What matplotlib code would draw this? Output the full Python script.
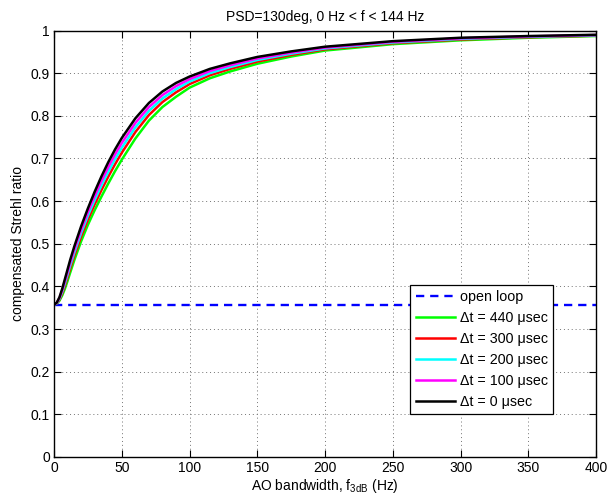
import matplotlib
matplotlib.use("Agg")
import matplotlib.pyplot as plt
import numpy as np

plt.rcParams["font.family"] = ["Liberation Sans", "DejaVu Sans"]

# AO bandwidth f_3dB (Hz)
f3db = [0, 2, 4, 6, 8, 10, 12, 15, 20, 25, 30, 35, 40, 45, 50, 60, 70, 80,
        90, 100, 115, 130, 150, 175, 200, 250, 300, 350, 400]

open_loop = 0.357

strehl_440 = [0.357, 0.3595, 0.3665, 0.3785, 0.3943, 0.4131, 0.433, 0.4618,
              0.5058, 0.5445, 0.5788, 0.6106, 0.6411, 0.6701, 0.6971, 0.7466,
              0.7886, 0.8206, 0.8446, 0.866, 0.888, 0.904, 0.922, 0.939,
              0.953, 0.968, 0.977, 0.983, 0.987]
strehl_300 = [0.357, 0.3603, 0.3691, 0.3835, 0.4016, 0.4217, 0.4426, 0.4721,
              0.5171, 0.5568, 0.5926, 0.6258, 0.6571, 0.6864, 0.7134, 0.7618,
              0.8018, 0.8322, 0.855, 0.8743, 0.895, 0.9101, 0.9271, 0.9428,
              0.9559, 0.9702, 0.9789, 0.9843, 0.988]
strehl_200 = [0.357, 0.3609, 0.3709, 0.387, 0.4068, 0.4279, 0.4495, 0.4795,
              0.5252, 0.5657, 0.6026, 0.6367, 0.6685, 0.6981, 0.7251, 0.7727,
              0.8114, 0.8406, 0.8624, 0.8803, 0.9001, 0.9144, 0.9308, 0.9456,
              0.9579, 0.9718, 0.9803, 0.9852, 0.9886]
strehl_100 = [0.357, 0.3614, 0.3727, 0.3904, 0.4118, 0.4338, 0.4561, 0.4866,
              0.5329, 0.5741, 0.6121, 0.6471, 0.6795, 0.7093, 0.7363, 0.7831,
              0.8205, 0.8486, 0.8695, 0.886, 0.9049, 0.9186, 0.9343, 0.9482,
              0.9599, 0.9734, 0.9816, 0.9861, 0.9893]
strehl_0 = [0.357, 0.362, 0.3745, 0.394, 0.417, 0.44, 0.463, 0.494, 0.541,
            0.583, 0.622, 0.658, 0.691, 0.721, 0.748, 0.794, 0.83, 0.857,
            0.877, 0.892, 0.91, 0.923, 0.938, 0.951, 0.962, 0.975, 0.983,
            0.987, 0.99]

series = [
    ("\u0394t = 440 \u03bcsec", strehl_440, (0, 1, 0)),
    ("\u0394t = 300 \u03bcsec", strehl_300, (1, 0, 0)),
    ("\u0394t = 200 \u03bcsec", strehl_200, (0, 1, 1)),
    ("\u0394t = 100 \u03bcsec", strehl_100, (1, 0, 1)),
    ("\u0394t = 0 \u03bcsec", strehl_0, (0, 0, 0)),
]

fig = plt.figure(figsize=(6.16, 5.0), dpi=100)
ax = fig.add_axes([0.0877, 0.086, 0.88, 0.853])

ax.axhline(open_loop, color=(0, 0, 1), linestyle=(0, (3.5, 2.5)),
           linewidth=1.7, label="open loop")
for label, vals, color in series:
    ax.plot(f3db, vals, color=color, linewidth=1.8, label=label,
            solid_joinstyle="round")

ax.set_xlim(0, 400)
ax.set_ylim(0, 1)
ax.set_xticks(np.arange(0, 401, 50))
ax.set_yticks(np.arange(0, 1.01, 0.1))
ax.set_yticklabels(["0", "0.1", "0.2", "0.3", "0.4", "0.5", "0.6", "0.7",
                    "0.8", "0.9", "1"])
ax.tick_params(direction="in", top=True, right=True, length=5, width=0.8,
               labelsize=10, pad=3)
for sp in ax.spines.values():
    sp.set_linewidth(1.0)
ax.grid(True, linestyle=(0, (1, 3)), color="0.45", linewidth=0.7)

ax.set_title("PSD=130deg, 0 Hz < f < 144 Hz", fontsize=10, pad=7)
ax.set_xlabel("AO bandwidth, f$_{\\mathregular{3dB}}$ (Hz)", fontsize=10,
              labelpad=1)
ax.set_ylabel("compensated Strehl ratio", fontsize=10, labelpad=4)

leg = ax.legend(loc="lower left", bbox_to_anchor=(0.657, 0.10),
                fontsize=10.3, fancybox=False, framealpha=1,
                edgecolor="black", handlelength=2.7, handletextpad=0.35,
                labelspacing=0.48, borderpad=0.4, borderaxespad=0)
leg.get_frame().set_linewidth(0.9)

fig.savefig("out.png", dpi=100)
